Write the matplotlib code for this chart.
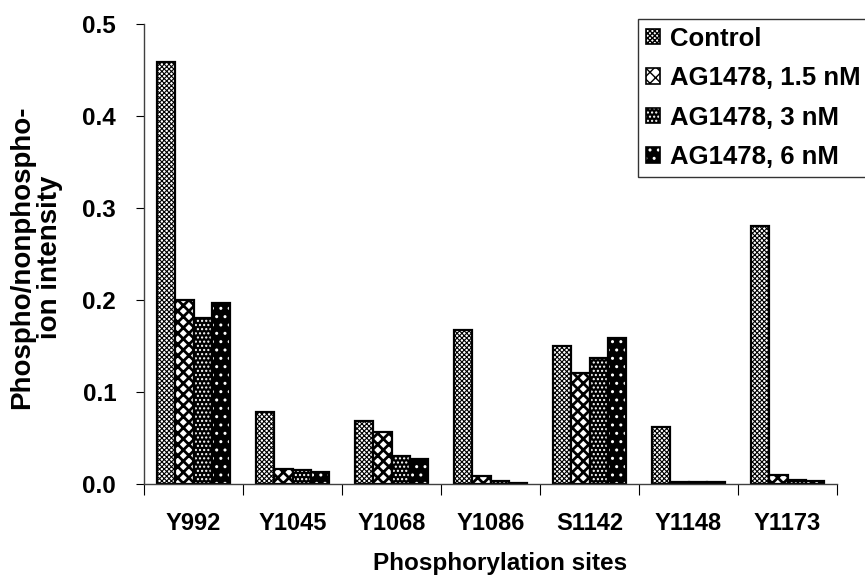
import numpy as np
import matplotlib
matplotlib.use("Agg")
import matplotlib.pyplot as plt
from matplotlib.patches import Patch

plt.rcParams.update({
    "font.family": ["Liberation Sans", "DejaVu Sans"],
    "font.weight": "bold",
    "font.size": 17,
})

sites = ["Y992", "Y1045", "Y1068", "Y1086", "S1142", "Y1148", "Y1173"]
series = ["Control", "AG1478, 1.5 nM", "AG1478, 3 nM", "AG1478, 6 nM"]
control = [0.459, 0.078, 0.068, 0.167, 0.150, 0.062, 0.280]
ag_1_5 = [0.200, 0.016, 0.056, 0.009, 0.121, 0.002, 0.010]
ag_3 = [0.180, 0.015, 0.030, 0.003, 0.137, 0.002, 0.004]
ag_6 = [0.197, 0.013, 0.027, 0.001, 0.159, 0.002, 0.003]

# face colour, hatch, hatch colour, hatch line width
styles = [
    ("#ffffff", "xxxxxxx", "#000000", 0.8),
    ("#ffffff", "xxx", "#000000", 2.0),
    ("#000000", "....", "#ffffff", 1.0),
    ("#000000", "..", "#ffffff", 1.0),
]

fig = plt.figure(figsize=(8.65, 5.78), dpi=100)
ax = fig.add_axes([144 / 865, (578 - 484) / 578, (837 - 144) / 865, 460 / 578])

x = np.arange(len(sites))
w = 0.184
values = [control, ag_1_5, ag_3, ag_6]
handles = []
for i, (vals, name, (fc, hatch, hc, hlw)) in enumerate(zip(values, series, styles)):
    pos = x + (i - 1.5) * w
    with plt.rc_context({"hatch.linewidth": hlw}):
        ax.bar(pos, vals, w, color=fc, hatch=hatch, edgecolor=hc, linewidth=0)
        fill = Patch(facecolor=fc, hatch=hatch, edgecolor=hc, linewidth=0)
    ax.bar(pos, vals, w, fill=False, edgecolor="black", linewidth=1.6)
    outline = Patch(fill=False, edgecolor="black", linewidth=1.2)
    handles.append((fill, outline))

ax.set_xlim(-0.5, len(sites) - 0.5)
ax.set_ylim(0, 0.5)
ax.set_yticks([0.0, 0.1, 0.2, 0.3, 0.4, 0.5])
ax.set_yticklabels(["0.0", "0.1", "0.2", "0.3", "0.4", "0.5"])
ax.tick_params(axis="y", direction="out", length=6, pad=14, labelsize=17.5)

ax.set_xticks(np.arange(len(sites) + 1) - 0.5)
ax.set_xticklabels([])
ax.tick_params(axis="x", which="major", direction="out", length=8)
ax.set_xticks(x, minor=True)
ax.set_xticklabels(sites, minor=True)
ax.tick_params(axis="x", which="minor", length=0, pad=20, labelsize=17)

for s in ["top", "right"]:
    ax.spines[s].set_visible(False)
for s in ["left", "bottom"]:
    ax.spines[s].set_linewidth(1.0)
    ax.spines[s].set_color("#404040")

ax.set_ylabel("Phospho/nonphospho-\nion intensity", fontsize=20, fontweight="bold",
              linespacing=1.1)
ax.yaxis.set_label_coords(63 / 865, 1 - 257 / 578, transform=fig.transFigure)
ax.set_xlabel("Phosphorylation sites", fontsize=17.5, fontweight="bold")
ax.xaxis.set_label_coords(500 / 865, 1 - 552 / 578, transform=fig.transFigure)

leg = ax.legend(handles, series, loc="upper left", bbox_to_anchor=(638 / 865, 1 - 19 / 578),
                bbox_transform=fig.transFigure, frameon=True, fancybox=False,
                edgecolor="black", fontsize=18.5, handlelength=0.55, handleheight=0.55,
                handletextpad=0.4, borderpad=0.3, labelspacing=0.6, borderaxespad=0)
leg.get_frame().set_linewidth(1.0)

fig.savefig("out.png", dpi=100)
